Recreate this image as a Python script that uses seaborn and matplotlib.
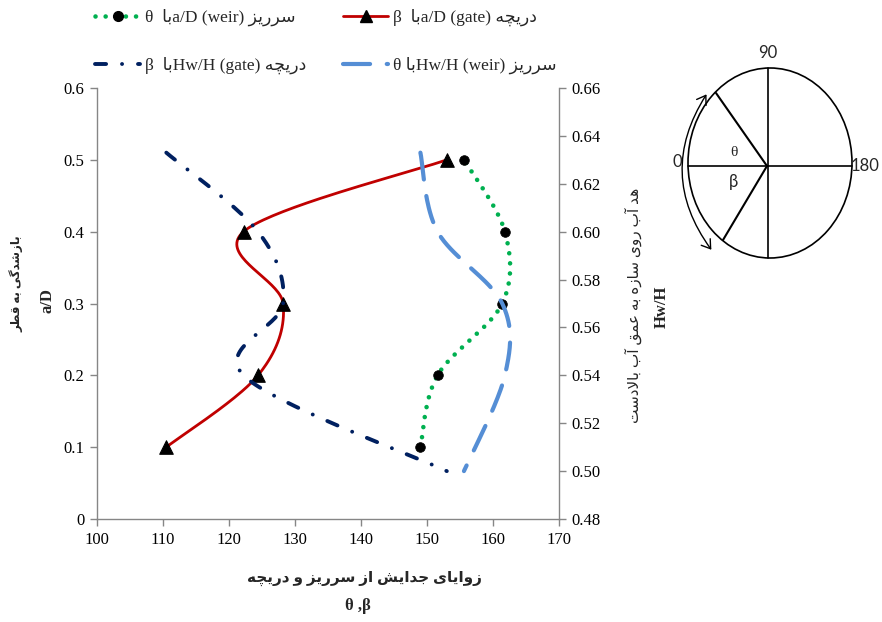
import numpy as np
import matplotlib
matplotlib.use("Agg")
import matplotlib.pyplot as plt
from matplotlib.lines import Line2D
from matplotlib.patches import Ellipse, FancyArrowPatch
import seaborn as sns

# values
a_d = [0.1, 0.2, 0.3, 0.4, 0.5]
hw_h = [0.633, 0.60, 0.57, 0.54, 0.50]
theta_weir = [149.0, 151.6, 161.4, 161.8, 155.6]
beta_gate = [110.5, 124.4, 128.2, 122.2, 153.0]

x_ticks = [100, 110, 120, 130, 140, 150, 160, 170]
y_ticks = [0, 0.1, 0.2, 0.3, 0.4, 0.5, 0.6]
y_labels = ['0', '0.1', '0.2', '0.3', '0.4', '0.5', '0.6']
y2_ticks = [0.48, 0.50, 0.52, 0.54, 0.56, 0.58, 0.60, 0.62, 0.64, 0.66]
y2_labels = ['0.48', '0.50', '0.52', '0.54', '0.56', '0.58', '0.60', '0.62', '0.64', '0.66']

GREEN = '#00B050'
RED = '#C00000'
NAVY = '#002060'
BLUE = '#558ED5'
GRAY = '#868686'

# --- persian text: matplotlib does no shaping, so use presentation forms ---
FORMS = {
    'ا': ('\uFE8D', '\uFE8E', None, None),
    'آ': ('\uFE81', '\uFE82', None, None),
    'ب': ('\uFE8F', '\uFE90', '\uFE91', '\uFE92'),
    'ت': ('\uFE95', '\uFE96', '\uFE97', '\uFE98'),
    'ج': ('\uFE9D', '\uFE9E', '\uFE9F', '\uFEA0'),
    'چ': ('\uFB7A', '\uFB7B', '\uFB7C', '\uFB7D'),
    'د': ('\uFEA9', '\uFEAA', None, None),
    'ر': ('\uFEAD', '\uFEAE', None, None),
    'ز': ('\uFEAF', '\uFEB0', None, None),
    'س': ('\uFEB1', '\uFEB2', '\uFEB3', '\uFEB4'),
    'ش': ('\uFEB5', '\uFEB6', '\uFEB7', '\uFEB8'),
    'ط': ('\uFEC1', '\uFEC2', '\uFEC3', '\uFEC4'),
    'ع': ('\uFEC9', '\uFECA', '\uFECB', '\uFECC'),
    'ق': ('\uFED5', '\uFED6', '\uFED7', '\uFED8'),
    'گ': ('\uFB92', '\uFB93', '\uFB94', '\uFB95'),
    'ل': ('\uFEDD', '\uFEDE', '\uFEDF', '\uFEE0'),
    'م': ('\uFEE1', '\uFEE2', '\uFEE3', '\uFEE4'),
    'ه': ('\uFEE9', '\uFEEA', '\uFEEB', '\uFEEC'),
    'و': ('\uFEED', '\uFEEE', None, None),
    'ی': ('\uFBFC', '\uFBFD', '\uFBFE', '\uFBFF'),
}


def fa(s):
    out = []
    i = 0
    while i < len(s):
        c = s[i]
        if c not in FORMS:
            out.append(c)
            i += 1
            continue
        prev = s[i - 1] if i > 0 else ' '
        join_prev = prev in FORMS and FORMS[prev][2] is not None
        nxt = s[i + 1] if i + 1 < len(s) else ' '
        if c == 'ل' and nxt in ('ا', 'آ'):
            lig = ('\uFEFB', '\uFEFC') if nxt == 'ا' else ('\uFEF5', '\uFEF6')
            out.append(lig[1] if join_prev else lig[0])
            i += 2
            continue
        iso, fin, ini, med = FORMS[c]
        join_next = ini is not None and nxt in FORMS
        if join_prev and join_next:
            out.append(med)
        elif join_next:
            out.append(ini)
        elif join_prev:
            out.append(fin)
        else:
            out.append(iso)
        i += 1
    return ''.join(reversed(out))


def smooth(x, y, ax, n=40):
    # excel style smoothed line, built in screen space
    pts = ax.transData.transform(np.column_stack([x, y]))
    P = np.vstack([pts[0], pts, pts[-1]])
    t = np.linspace(0, 1, n)[:, None]
    segs = []
    for i in range(1, len(P) - 2):
        p0, p1, p2, p3 = P[i - 1], P[i], P[i + 1], P[i + 2]
        c1 = p1 + (p2 - p0) / 6
        c2 = p2 - (p3 - p1) / 6
        seg = (1 - t) ** 3 * p1 + 3 * (1 - t) ** 2 * t * c1 + 3 * (1 - t) * t ** 2 * c2 + t ** 3 * p2
        segs.append(seg if i == 1 else seg[1:])
    xy = ax.transData.inverted().transform(np.vstack(segs))
    return xy[:, 0], xy[:, 1]


sns.set_theme(style="ticks")
plt.rcParams['font.family'] = ['Liberation Serif', 'DejaVu Sans']

fig = plt.figure(figsize=(8.82, 6.22), dpi=100)
ax = fig.add_axes([97 / 882, 1 - 519 / 622, 462 / 882, 431 / 622])
ax2 = ax.twinx()

ax.set_xlim(100, 170)
ax.set_ylim(0, 0.6)
ax2.set_ylim(0.48, 0.66)

dot_style = dict(color=GREEN, lw=3.3, linestyle=(0, (0.01, 2.2)), dash_capstyle='round')
red_style = dict(color=RED, lw=2.0)
navy_style = dict(color=NAVY, lw=2.8, linestyle=(0, (2.85, 4.1, 0.01, 4.1)),
                  dash_capstyle='round')
blue_style = dict(color=BLUE, lw=3.0, linestyle=(0, (6.5, 4.0)), dash_capstyle='round')

sx, sy = smooth(theta_weir, a_d, ax)
sns.lineplot(x=sx, y=sy, sort=False, estimator=None, ax=ax, **dot_style)
sx, sy = smooth(beta_gate, a_d, ax)
sns.lineplot(x=sx, y=sy, sort=False, estimator=None, ax=ax, **red_style)
sns.scatterplot(x=theta_weir, y=a_d, ax=ax, marker='o', s=48, color='black',
                edgecolor='black', zorder=5)
sns.scatterplot(x=beta_gate, y=a_d, ax=ax, marker='^', s=95, color='black',
                edgecolor='black', zorder=5)

sx, sy = smooth(beta_gate, hw_h, ax2)
sns.lineplot(x=sx, y=sy, sort=False, estimator=None, ax=ax2, **navy_style)
sx, sy = smooth(theta_weir, hw_h, ax2)
sns.lineplot(x=sx, y=sy, sort=False, estimator=None, ax=ax2, **blue_style)

ax.set_xlim(100, 170)
ax.set_ylim(0, 0.6)
ax2.set_ylim(0.48, 0.66)
ax.set_xticks(x_ticks)
ax.set_xticklabels([str(v) for v in x_ticks])
ax.set_yticks(y_ticks)
ax.set_yticklabels(y_labels)
ax2.set_yticks(y2_ticks)
ax2.set_yticklabels(y2_labels)

for a in (ax, ax2):
    a.tick_params(direction='out', length=5, width=1, color=GRAY, labelsize=12,
                  labelcolor='black', pad=4)
    a.spines['top'].set_visible(False)
    for sp in a.spines.values():
        sp.set_color(GRAY)
        sp.set_linewidth(1)
    a.set_xlabel('')
    a.set_ylabel('')
ax.spines['right'].set_visible(False)
ax2.spines['left'].set_visible(False)
ax2.spines['bottom'].set_visible(False)

# axis titles
fig.text(364 / 882, 1 - 578 / 622, fa('زوایای جدایش از سرریز و دریچه'), ha='center',
         va='center', fontsize=11, fontweight='bold')
fig.text(358 / 882, 1 - 606 / 622, 'θ ,β', ha='center', va='center', fontsize=12,
         fontweight='bold')
fig.text(16 / 882, 1 - 284 / 622, fa('بازشدگی به قطر'), rotation=90, ha='center',
         va='center', fontsize=8.5, fontweight='bold')
fig.text(47 / 882, 1 - 300 / 622, 'a/D', rotation=90, ha='center', va='center',
         fontsize=12, fontweight='bold')
fig.text(633 / 882, 1 - 305 / 622, fa('هد آب روی سازه به عمق آب بالادست'), rotation=90,
         ha='center', va='center', fontsize=11)
fig.text(662 / 882, 1 - 307 / 622, 'Hw/H', rotation=90, ha='center', va='center',
         fontsize=12, fontweight='bold')

# legend, two columns
h_weir_ad = Line2D([], [], marker='o', markersize=7, mfc='black', mec='black', **dot_style)
h_gate_ad = Line2D([], [], marker='^', markersize=9, mfc='black', mec='black', **red_style)
h_gate_hw = Line2D([], [], **navy_style)
h_weir_hw = Line2D([], [], **blue_style)
lab_weir_ad = 'θ  ' + fa('با') + 'a/D (weir) ' + fa('سرریز')
lab_gate_ad = 'β  ' + fa('با') + 'a/D (gate) ' + fa('دریچه')
lab_gate_hw = 'β  ' + fa('با') + 'Hw/H (gate) ' + fa('دریچه')
lab_weir_hw = 'θ ' + fa('با') + 'Hw/H (weir) ' + fa('سرریز')

leg_kw = dict(frameon=False, fontsize=12.5, handlelength=2.6, handletextpad=0.3,
              labelspacing=1.75, borderaxespad=0, borderpad=0, loc='upper left')
leg1 = fig.legend([h_weir_ad, h_gate_hw], [lab_weir_ad, lab_gate_hw],
                  bbox_to_anchor=(95 / 882, 1 - 9 / 622), **leg_kw)
leg2 = fig.legend([h_gate_ad, h_weir_hw], [lab_gate_ad, lab_weir_hw],
                  bbox_to_anchor=(343 / 882, 1 - 9 / 622), **leg_kw)

# angle sketch on the right
ov = fig.add_axes([0, 0, 1, 1], zorder=-1)
ov.set_xlim(0, 882)
ov.set_ylim(622, 0)
ov.axis('off')
ov.add_patch(Ellipse((770, 163), 164, 190, fill=False, lw=1.2, color='black'))
ov.plot([688, 852], [166, 166], color='black', lw=1.2)
ov.plot([768, 768], [68, 258], color='black', lw=1.2)
ov.plot([716, 767], [93, 166], color='black', lw=1.5)
ov.plot([723, 767], [240, 166], color='black', lw=1.5)
ov.add_patch(FancyArrowPatch((708, 92), (713, 252), arrowstyle='<->,head_length=6,head_width=4',
                             connectionstyle='arc3,rad=0.35', color='black', lw=1.0))
sketch_font = ['Lato', 'DejaVu Sans']
ov.text(768, 53, '90', ha='center', va='center', fontsize=12, family=sketch_font)
ov.text(851, 166, '180', ha='left', va='center', fontsize=12, family=sketch_font)
ov.text(682, 162, '0', ha='right', va='center', fontsize=12, family=sketch_font)
ov.text(734, 152, 'θ', ha='center', va='center', fontsize=11)
ov.text(734, 182, 'β', ha='center', va='center', fontsize=12, family=sketch_font)

fig.savefig('out.png', dpi=100)
